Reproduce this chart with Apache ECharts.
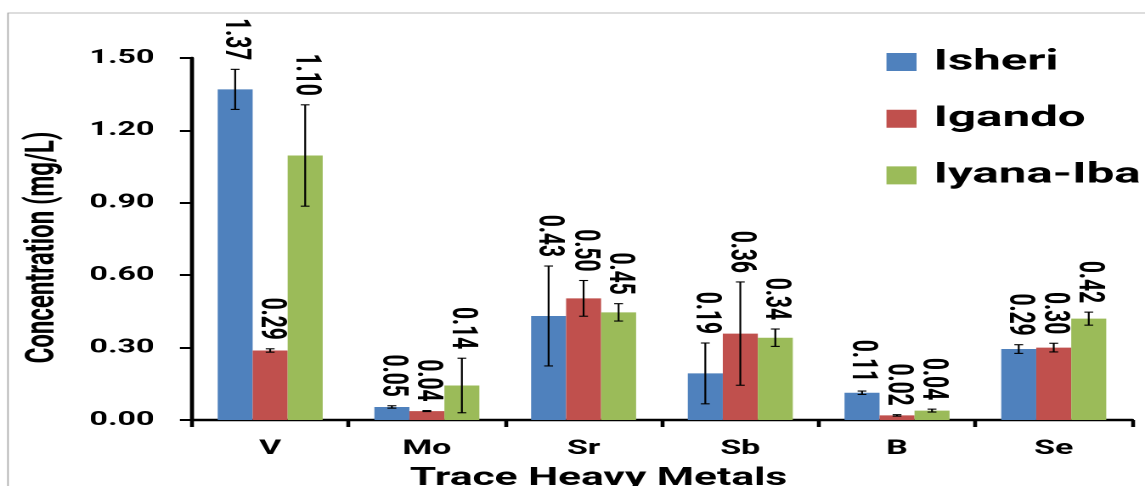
<!DOCTYPE html>
<html><head><meta charset="utf-8">
<script src="https://cdn.jsdelivr.net/npm/echarts@6/dist/echarts.min.js"></script>
<style>
html,body{margin:0;padding:0;background:#fff;overflow:hidden;width:1145px;height:486px;}
#chart{width:674px;height:486px;transform:scaleX(1.69881);transform-origin:0 0;}
</style></head><body><div id="chart"></div>
<script>
const categories = ['V','Mo','Sr','Sb','B','Se'];
const seriesNames = ['Isheri','Igando','Iyana-Iba'];
const isheri   = [1.370, 0.054, 0.431, 0.193, 0.113, 0.294];
const igando   = [0.288, 0.037, 0.504, 0.358, 0.019, 0.300];
const iyanaIba = [1.096, 0.143, 0.446, 0.341, 0.039, 0.420];
const isheriErr   = [0.083, 0.005, 0.207, 0.126, 0.007, 0.018];
const igandoErr   = [0.007, 0.002, 0.074, 0.214, 0.003, 0.018];
const iyanaIbaErr = [0.210, 0.113, 0.036, 0.036, 0.006, 0.027];
const yTickLabels = ['0.00','0.30','0.60','0.90','1.20','1.50'];
const colors = ['#4F81BD','#C0504D','#9BBB59'];

const GAP = 0.33;
const FONT = 'Roboto';
const chart = echarts.init(document.getElementById('chart'), null, {devicePixelRatio: 2});

function barSeries(name, vals, color){
  return {type:'bar', name:name, data:vals, barGap:'0%', barCategoryGap:'33%',
    itemStyle:{color:color}, z:2};
}
function errSeries(si, vals, errs){
  return {
    type:'custom', name:'err'+si, silent:true, z:5,
    encode:{x:0, y:[1,2]},
    data: vals.map((v,i)=>[i, v-errs[i], v+errs[i], v]),
    renderItem: function(params, api){
      const cat = api.value(0);
      const lo = api.coord([cat, api.value(1)]);
      const hi = api.coord([cat, api.value(2)]);
      const bandW = api.size([1,0])[0];
      const barW = bandW*(1-GAP)/3;
      const x = lo[0] + (si-1)*barW;
      const cap = 2.6;
      const ls = {stroke:'#000', lineWidth:1.1};
      const txt = api.value(3).toFixed(2);
      return {type:'group', children:[
        {type:'line', shape:{x1:x,y1:lo[1],x2:x,y2:hi[1]}, style:ls},
        {type:'line', shape:{x1:x-cap,y1:lo[1],x2:x+cap,y2:lo[1]}, style:ls},
        {type:'line', shape:{x1:x-cap,y1:hi[1],x2:x+cap,y2:hi[1]}, style:ls},
        {type:'text', x:x, y:hi[1]-9, rotation:-Math.PI/2,
          style:{text:txt, align:'right', verticalAlign:'middle', textAlign:'right', textVerticalAlign:'middle',
            font:'bold 21px '+FONT, fill:'#000'}}
      ]};
    }
  };
}

chart.setOption({
  backgroundColor:'#fff',
  animation:false,
  grid:{left:112.9, right:7.6, top:58, bottom:66, containLabel:false},
  legend:{data:seriesNames, orient:'vertical', left:516.8, top:42.5, itemWidth:17.7, itemHeight:18,
    itemGap:27.7, icon:'rect', selectedMode:false,
    textStyle:{fontFamily:FONT, fontWeight:'bold', fontSize:29, lineHeight:29, color:'#000', padding:[0,0,0,5]}},
  xAxis:{type:'category', data:categories,
    axisLine:{lineStyle:{color:'#000', width:2.4}},
    axisTick:{show:true, length:7, lineStyle:{color:'#000', width:2.3}},
    axisLabel:{margin:19, fontFamily:FONT, fontWeight:'bold', fontSize:20, color:'#000'}},
  yAxis:{type:'value', min:0, max:1.5, interval:0.3,
    axisLine:{show:true, lineStyle:{color:'#000', width:2.4}},
    axisTick:{show:true, length:7, lineStyle:{color:'#000', width:2}},
    splitLine:{show:false},
    axisLabel:{margin:22, fontFamily:FONT, fontWeight:'bold', fontSize:19, color:'#000',
      formatter:(v,i)=>yTickLabels[i]}},
  graphic:[
    {type:'rect', silent:true, z:-1, shape:{x:4.7, y:13, width:800, height:600},
      style:{fill:'none', stroke:'#a6a6a6', lineWidth:0.8}},
    {type:'text', x:25.6, y:247.5, rotation:Math.PI/2,
      style:{text:'Concentration (mg/L)', font:'bold 24px '+FONT, fill:'#000',
        align:'center', verticalAlign:'middle', textAlign:'center', textVerticalAlign:'middle'}},
    {type:'text', x:352.3, y:466,
      style:{text:'Trace Heavy Metals', font:'bold 25px '+FONT, fill:'#000',
        align:'center', verticalAlign:'top', textAlign:'center', textVerticalAlign:'top'}}
  ],
  series:[
    barSeries(seriesNames[0], isheri, colors[0]),
    barSeries(seriesNames[1], igando, colors[1]),
    barSeries(seriesNames[2], iyanaIba, colors[2]),
    errSeries(0, isheri, isheriErr),
    errSeries(1, igando, igandoErr),
    errSeries(2, iyanaIba, iyanaIbaErr)
  ]
});
</script></body></html>
